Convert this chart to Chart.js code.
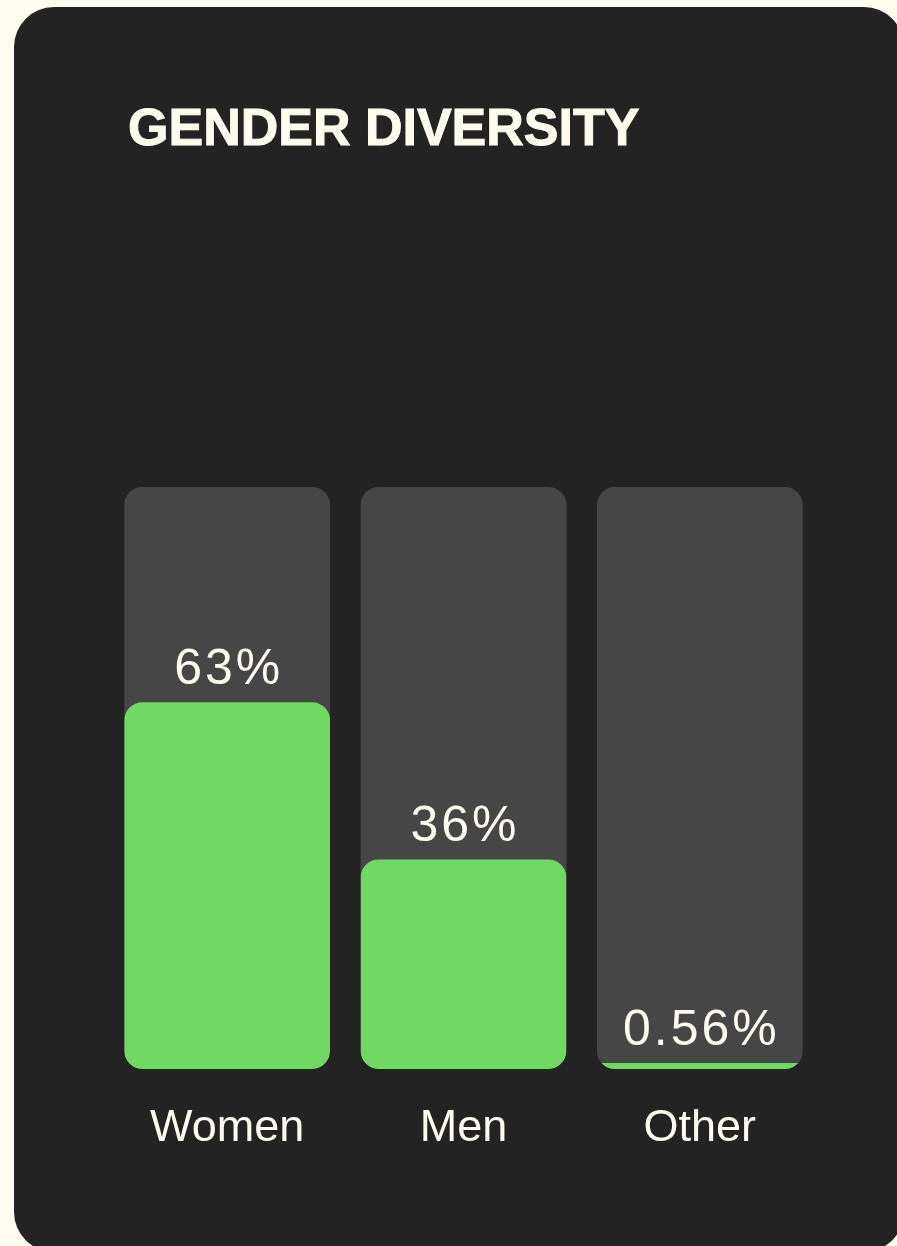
<!DOCTYPE html>
<html>
<head>
<meta charset="utf-8">
<title>Gender diversity</title>
<script src="https://cdn.jsdelivr.net/npm/chart.js@4.4.1/dist/chart.umd.min.js"></script>
<style>
  html, body { margin: 0; padding: 0; background: #fffcf0; }
  body { width: 897px; height: 1246px; position: relative; overflow: hidden; }
  .card {
    position: absolute; left: 14px; top: 7px; width: 890px; height: 1245px;
    background: #232323; border-radius: 40px;
  }
  h2 {
    position: absolute; left: 128px; top: 101px; margin: 0;
    font: bold 52px/1 "Liberation Sans", Arial, sans-serif;
    color: #fdfaee; -webkit-text-stroke: 1px #fdfaee;
  }
  #chart { position: absolute; left: 0; top: 0; }
</style>
</head>
<body>
<div class="card"></div>
<h2>GENDER DIVERSITY</h2>
<canvas id="chart" width="897" height="1246"></canvas>
<script>
const categories = ['Women', 'Men', 'Other']
const shares = [63, 36, 0.56]
const shareLabels = ['63%', '36%', '0.56%']
const track = [100, 100, 100]

const GREEN = '#6fd962'
const TRACK = '#464646'
const TEXT = '#fdfaee'
const RADIUS = 18

// keep the green fill inside each rounded grey column
const clipToTrack = {
    id: 'clipToTrack',
    beforeDatasetDraw(chart, args) {
        if (args.index !== 0) return
        const ctx = chart.ctx
        const trackMeta = chart.getDatasetMeta(1)
        ctx.save()
        ctx.beginPath()
        trackMeta.data.forEach(bar => {
            const w = bar.width
            ctx.roundRect(bar.x - w / 2, bar.y, w, bar.base - bar.y, RADIUS)
        })
        ctx.clip()
    },
    afterDatasetDraw(chart, args) {
        if (args.index !== 0) return
        chart.ctx.restore()
    }
}

// percentage written just above each green bar
const valueLabels = {
    id: 'valueLabels',
    afterDatasetsDraw(chart) {
        const ctx = chart.ctx
        const meta = chart.getDatasetMeta(0)
        ctx.save()
        ctx.fillStyle = TEXT
        ctx.font = '50px "Liberation Sans", Arial, sans-serif'
        ctx.letterSpacing = '3px'
        ctx.textAlign = 'center'
        ctx.textBaseline = 'alphabetic'
        meta.data.forEach((bar, i) => {
            ctx.fillText(shareLabels[i], bar.x + 1.5, bar.y - 18)
        })
        ctx.restore()
    }
}

const ctx = document.getElementById('chart').getContext('2d')
const genderChart = new Chart(ctx, {
    type: 'bar',
    data: {
        labels: categories,
        datasets: [
            {
                data: shares,
                backgroundColor: GREEN,
                borderRadius: RADIUS,
                borderSkipped: false,
                minBarLength: 6,
                grouped: false,
                order: 1
            },
            {
                data: track,
                backgroundColor: TRACK,
                borderRadius: RADIUS,
                borderSkipped: false,
                grouped: false,
                order: 2
            }
        ]
    },
    options: {
        responsive: false,
        animation: false,
        devicePixelRatio: 1,
        layout: {
            padding: { left: 109, right: 79, top: 487, bottom: 57 }
        },
        categoryPercentage: 1,
        barPercentage: 0.871,
        plugins: {
            legend: { display: false },
            tooltip: { enabled: false }
        },
        scales: {
            x: {
                grid: { display: false, drawTicks: false },
                border: { display: false },
                ticks: {
                    color: TEXT,
                    padding: 33,
                    font: { family: '"Liberation Sans", Arial, sans-serif', size: 45 }
                }
            },
            y: {
                display: false,
                min: 0,
                max: 100
            }
        }
    },
    plugins: [clipToTrack, valueLabels]
});
</script>
</body>
</html>
